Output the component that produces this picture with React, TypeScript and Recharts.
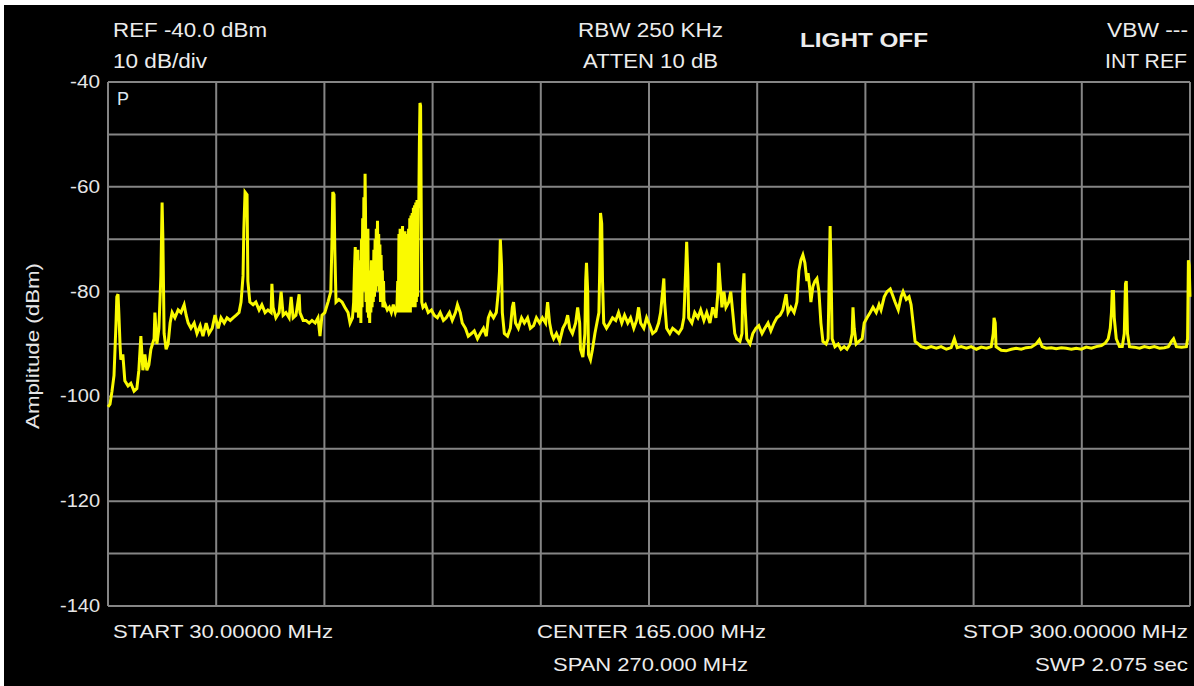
// @ts-nocheck
import { LineChart, Line, XAxis, YAxis, CartesianGrid } from 'recharts';

// trace, [MHz, dBm]
const lowBand = [
  [30.0, -102], [30.5, -101.5], [31.0, -99], [31.5, -96], [32.0, -86], [32.2, -81], [32.5, -80.5], [32.7, -84],
  [33.0, -90], [33.2, -93], [33.7, -92], [34.2, -97], [35.0, -98], [35.7, -97.5], [36.5, -99], [37.2, -98.5],
  [37.7, -95], [38.2, -88.5], [38.7, -95], [39.2, -92], [39.7, -95], [40.2, -94], [40.7, -91], [41.5, -89],
  [41.7, -84], [42.2, -90], [42.7, -87], [43.2, -77], [43.5, -63], [43.7, -70], [44.0, -88], [44.5, -91],
  [45.0, -90], [45.5, -86],
];

const vhfLow = [
  [46.0, -84], [46.7, -85], [47.5, -83.5], [48.2, -84], [49.0, -82.5], [49.5, -84.5], [50.0, -86], [50.7, -87],
  [51.5, -86], [52.2, -88], [53.0, -86.5], [53.7, -88.5], [54.5, -86], [55.2, -88], [56.0, -87], [56.7, -84.5],
  [57.5, -87], [58.2, -85], [59.0, -86], [59.7, -85], [60.5, -85.5], [61.2, -85], [62.0, -84.5], [62.7, -84],
  [63.2, -82], [63.7, -77], [63.9, -68], [64.2, -61], [64.7, -61.5], [64.9, -78], [65.4, -82], [66.2, -82.5],
  [66.9, -82], [67.7, -83.5], [68.4, -82.5], [69.2, -84], [69.9, -83.5], [70.7, -84], [70.9, -78.5], [71.2, -83],
  [71.9, -85], [72.7, -84], [73.2, -80], [73.7, -84.5], [74.4, -84], [75.2, -85], [75.7, -81], [76.2, -85],
  [76.9, -84.5], [77.7, -80.5], [77.9, -84], [78.7, -85.5], [79.4, -85.5], [80.2, -86], [80.9, -85.5], [81.7, -86],
  [82.4, -85], [82.9, -88.5], [83.4, -84.5], [84.1, -84], [84.9, -82], [85.6, -80], [85.9, -70], [86.1, -61],
  [86.4, -61.5], [86.6, -72], [86.9, -82], [87.6, -81.5], [88.4, -82], [89.1, -83], [89.9, -84], [90.4, -86],
];

const fmBand = [
  [91.0, -85], [91.3, -82], [91.5, -76], [91.7, -71.5], [91.8, -80], [91.9, -84], [92.05, -76], [92.2, -84],
  [92.35, -72], [92.5, -85], [92.65, -74], [92.8, -84], [92.95, -75], [93.1, -86], [93.25, -70], [93.4, -83],
  [93.55, -66], [93.7, -80], [93.85, -62], [94.0, -78], [94.15, -57.5], [94.25, -64], [94.4, -82], [94.55, -70],
  [94.7, -84], [94.85, -68], [95.0, -85], [95.15, -79], [95.3, -86], [95.45, -76], [95.6, -84], [95.75, -74],
  [95.9, -83], [96.05, -75], [96.2, -82], [96.35, -72], [96.5, -81], [96.65, -70], [96.8, -80], [96.95, -68],
  [97.1, -79], [97.25, -66.5], [97.4, -77], [97.55, -69], [97.7, -80], [97.85, -71], [98.0, -82], [98.15, -73],
  [98.3, -81], [98.45, -76], [98.6, -83], [98.75, -78], [98.9, -83], [99.2, -82.5], [99.7, -83.5], [100.2, -83],
  [100.7, -84], [101.2, -82.5], [101.7, -84], [102.1, -83], [102.3, -78], [102.45, -84], [102.6, -69], [102.75, -83],
  [102.9, -68], [103.05, -84], [103.2, -68], [103.35, -83], [103.5, -67.5], [103.65, -84], [103.8, -69], [103.95, -83],
  [104.1, -68.5], [104.25, -84], [104.4, -69], [104.55, -83], [104.7, -70], [104.85, -84], [105.0, -68], [105.15, -83],
  [105.3, -66], [105.45, -84], [105.6, -65.5], [105.75, -82], [105.9, -65], [106.05, -83], [106.2, -64], [106.35, -82],
  [106.5, -63.5], [106.65, -83], [106.8, -63], [106.95, -82], [107.1, -62.5], [107.25, -81], [107.4, -62.5], [107.55, -64],
  [107.7, -52], [107.85, -44], [108.0, -44.5], [108.15, -63], [108.3, -82], [108.6, -83], [109.2, -82.5],
];

const airBand = [
  [109.9, -84], [110.7, -83.5], [111.4, -84.5], [112.2, -85], [112.9, -84], [113.7, -85.5], [114.4, -85], [115.2, -84],
  [115.9, -85.5], [116.7, -84], [117.2, -82.5], [117.9, -84], [118.4, -86], [119.2, -87], [119.9, -88.5], [120.7, -88],
  [121.4, -87.5], [122.2, -89], [122.9, -88], [123.7, -87], [124.4, -88.5], [124.9, -85], [125.4, -84], [126.2, -85],
  [126.9, -84], [127.4, -80], [127.7, -76], [127.9, -70], [128.2, -75], [128.4, -84], [128.9, -88], [129.7, -88.5],
  [130.4, -87], [130.9, -83], [131.2, -82], [131.7, -86], [132.4, -87], [133.2, -85], [133.9, -86], [134.7, -85],
  [135.4, -87], [136.2, -86.5], [136.9, -85], [137.7, -86], [138.4, -85], [139.2, -86], [139.7, -82], [140.2, -86],
  [140.7, -88], [141.2, -89], [141.9, -88], [142.7, -89.5], [143.5, -87], [144.2, -86], [144.7, -84.5], [145.2, -87],
  [145.9, -88], [146.7, -86], [147.2, -83], [147.7, -86], [147.9, -91], [148.5, -92.5], [149.0, -88], [149.2, -78],
  [149.4, -74.5], [149.7, -80], [149.9, -92], [150.4, -93], [150.9, -91], [151.5, -88], [152.0, -86], [152.5, -84],
  [152.7, -76], [152.9, -65], [153.2, -67], [153.4, -78], [153.7, -86], [154.4, -87],
];

const vhfHigh = [
  [155.2, -86], [155.9, -85], [156.7, -85.5], [157.4, -84], [158.2, -86], [158.9, -84.5], [159.7, -86], [160.4, -85],
  [161.2, -87], [161.9, -85.5], [162.4, -83], [162.9, -86], [163.7, -87], [164.4, -85], [165.2, -86.5], [165.9, -88],
  [166.7, -87.5], [167.4, -86], [167.9, -84], [168.4, -80], [168.7, -77.5], [168.9, -82], [169.4, -87], [170.2, -88],
  [170.9, -87], [171.7, -87.5], [172.4, -88], [173.2, -87], [173.7, -85], [173.9, -81], [174.2, -75], [174.4, -70.5],
  [174.7, -77], [174.9, -85], [175.7, -86], [176.4, -84], [177.2, -85], [177.9, -83.5], [178.7, -85.5], [179.4, -84],
  [180.2, -86], [180.9, -83], [181.7, -85], [182.2, -80], [182.4, -74.5], [182.7, -78], [183.2, -83], [183.7, -80],
  [184.2, -83], [184.9, -82], [185.4, -80], [185.9, -84], [186.4, -88], [186.9, -89], [187.7, -89.5], [188.2, -88],
  [188.4, -80], [188.7, -76.5], [188.9, -82], [189.4, -89], [190.2, -90], [190.9, -88], [191.7, -87], [192.4, -86.5],
  [193.2, -88], [193.9, -87], [194.7, -86], [195.4, -87.5], [196.2, -86], [196.9, -85], [197.7, -84.5], [198.4, -83.5],
  [199.2, -80.5], [199.7, -84], [200.4, -83], [201.2, -84], [201.9, -82], [202.4, -76], [202.9, -74], [203.4, -73],
  [203.9, -74.5], [204.4, -78], [204.7, -76.5], [205.2, -80], [205.4, -82], [205.9, -79], [206.4, -78], [206.9, -77.5],
  [207.4, -80], [207.9, -86], [208.4, -89.5], [209.2, -90], [209.7, -89], [209.9, -80], [210.2, -67.5], [210.4, -75],
  [210.7, -89], [211.4, -90.5], [212.2, -90], [212.9, -91], [213.7, -90.5], [214.4, -91], [215.2, -90], [215.7, -88],
  [215.9, -83], [216.2, -87], [216.7, -90], [217.4, -89.5], [218.2, -89], [218.7, -86], [219.4, -85], [220.2, -84],
  [220.9, -83], [221.7, -84], [222.4, -82.5], [222.9, -83.5], [223.7, -81], [224.4, -80], [225.2, -79.5], [225.7, -80.5],
  [226.4, -82], [227.2, -83.5], [227.9, -81], [228.4, -80], [229.2, -81.5], [229.9, -81], [230.4, -82.5], [230.9, -86],
  [231.4, -89.5],
];

const uhfQuiet = [
  [232.2, -90], [232.9, -90.5], [234.2, -90.8], [235.4, -90.5], [236.7, -90.8], [237.9, -90.5], [239.2, -91], [240.4, -90.7],
  [241.2, -89], [241.9, -90.7], [242.9, -90.5], [244.2, -90.8], [245.4, -90.5], [246.7, -91], [247.9, -90.6], [249.2, -90.8],
  [250.4, -90.5], [250.9, -88], [251.1, -85], [251.4, -86], [251.6, -90.5], [252.9, -91.2], [254.1, -91.3], [255.4, -91],
  [256.6, -90.8], [257.9, -91], [259.1, -90.7], [260.4, -90.6], [261.6, -90], [262.4, -89.2], [263.1, -90.5], [264.1, -90.8],
  [265.4, -90.7], [266.6, -90.9], [267.9, -90.7], [269.1, -90.8], [270.4, -91], [271.6, -90.8], [272.9, -91], [274.1, -90.6],
  [275.4, -90.8], [276.6, -90.5], [277.9, -90.3], [278.9, -89.8], [279.6, -89], [280.1, -87], [280.4, -84], [280.6, -80],
  [280.9, -80], [281.1, -85], [281.6, -89], [282.4, -90.5], [283.1, -90.5], [283.6, -88], [283.9, -78.5], [284.1, -78],
  [284.4, -88], [284.9, -90.5], [286.1, -90.6], [287.4, -90.8], [288.6, -90.5], [289.9, -90.7], [291.1, -90.5], [292.4, -90.8],
  [293.6, -90.7], [294.6, -90.5], [295.4, -89.5], [295.9, -89], [296.6, -90.5], [297.9, -90.6], [299.1, -90.5], [299.4, -89],
  [299.6, -74], [299.8, -75], [300.0, -81],
];

const freqTicks = [30, 57, 84, 111, 138, 165, 192, 219, 246, 273, 300];
const ampTicks = [-140, -130, -120, -110, -100, -90, -80, -70, -60, -50, -40];

const trace = [...lowBand, ...vhfLow, ...fmBand, ...airBand, ...vhfHigh, ...uhfQuiet].map(([f, a]) => ({ f, a }));

const W = 1190;
const H = 681;
const FONT = '"Liberation Sans", Arial, sans-serif';

function AmpTick({ x, y, payload }: any) {
  if (payload.value % 20 !== 0) return null;
  const label = String(payload.value);
  return (
    <text x={x} y={y} dy={6} textAnchor="end" fill="#e6e6e6" fontSize={18} fontFamily={FONT}
      textLength={label.length * 10} lengthAdjust="spacingAndGlyphs">
      {label}
    </text>
  );
}

// screen annotations: [text, left x, baseline y, width, size, bold]
const notes = [
  ['REF -40.0 dBm', 109, 32, 154, 20, false],
  ['10 dB/div', 109, 63, 94, 20, false],
  ['RBW 250 KHz', 574, 32, 145, 20, false],
  ['ATTEN 10 dB', 579, 63, 135, 20, false],
  ['LIGHT OFF', 796, 42, 128, 21, true],
  ['VBW ---', 1103, 32, 81, 20, false],
  ['INT REF', 1101, 63, 82, 20, false],
  ['START 30.00000 MHz', 109, 633, 220, 19, false],
  ['CENTER 165.000 MHz', 533, 633, 229, 19, false],
  ['STOP 300.00000 MHz', 959, 633, 225, 19, false],
  ['SPAN 270.000 MHz', 549, 666, 195, 19, false],
  ['SWP 2.075 sec', 1031, 666, 153, 19, false],
];

export default function App() {
  return (
    <div style={{ position: 'fixed', left: 4, top: 5, width: W, height: H, background: '#000' }}>
      <LineChart width={W} height={H} data={trace} margin={{ top: 77, right: 4, left: 44, bottom: 0 }}>
        <CartesianGrid stroke="#858585" strokeWidth={2} />
        <XAxis dataKey="f" type="number" domain={[30, 300]} ticks={freqTicks} tickFormatter={() => ''} tickLine={false} axisLine={false} height={80} />
        <YAxis type="number" domain={[-140, -40]} ticks={ampTicks} tick={<AmpTick />} tickLine={false} axisLine={false} width={60} tickSize={6} tickMargin={2} allowDataOverflow />
        <Line dataKey="a" type="linear" stroke="#fafa00" strokeWidth={3} strokeLinejoin="miter" dot={false} isAnimationActive={false} />
      </LineChart>
      <svg width={W} height={H} style={{ position: 'absolute', left: 0, top: 0, pointerEvents: 'none' }}>
        {notes.map(([t, x, y, w, s, b]) => (
          <text key={t} x={x} y={y} fontSize={s} fontWeight={b ? 'bold' : 'normal'} fill="#ececec" fontFamily={FONT} textLength={w} lengthAdjust="spacingAndGlyphs">
            {t}
          </text>
        ))}
        <text x={113} y={100} fontSize={18} fill="#dce6f0" fontFamily={FONT}>P</text>
        <text x={0} y={0} transform="translate(35,341) rotate(-90)" textAnchor="middle" fontSize={19} fill="#e6e6e6" fontFamily={FONT}
          textLength={166} lengthAdjust="spacingAndGlyphs">Amplitude (dBm)</text>
      </svg>
    </div>
  );
}
